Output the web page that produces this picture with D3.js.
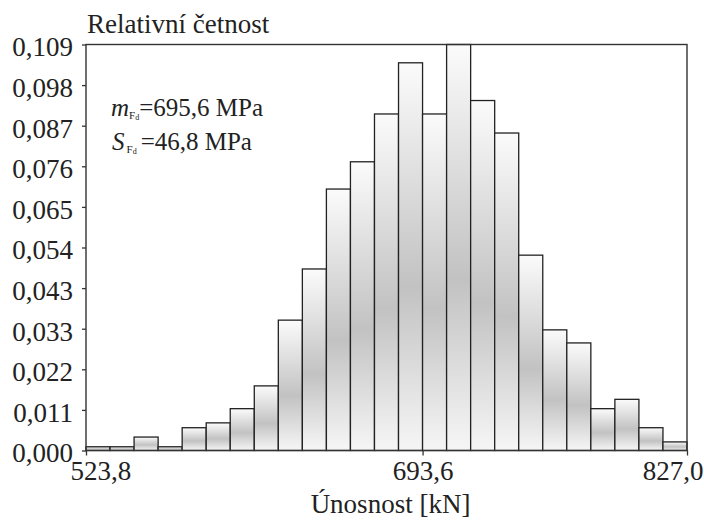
<!DOCTYPE html>
<html>
<head>
<meta charset="utf-8">
<script src="https://cdn.jsdelivr.net/npm/d3@7"></script>
<style>
  body { margin: 0; background: #fff; }
</style>
</head>
<body>
<div id="chart"></div>
<script>
// histogram range and relative frequencies
const xMin = 523.8;
const xMax = 827.0;
const freq = [0.0010, 0.0010, 0.0036, 0.0010, 0.0061, 0.0074, 0.0112, 0.0173, 0.0349, 0.0486,
              0.0700, 0.0773, 0.0901, 0.1038, 0.0901, 0.1087, 0.0937, 0.0850, 0.0523, 0.0323,
              0.0288, 0.0112, 0.0137, 0.0061, 0.0023];
const yMax = 0.1087;
const yTickLabels = ['0,000', '0,011', '0,022', '0,033', '0,043', '0,054', '0,065', '0,076', '0,087', '0,098', '0,109'];
const xTickValues = [523.8, 693.6, 827.0];
const xTickLabels = ['523,8', '693,6', '827,0'];

const FONT = "'Liberation Serif', 'Times New Roman', Tinos, 'DejaVu Serif', serif";

const W = 704, H = 522;
const margin = { top: 44.5, right: 17, bottom: 71.5, left: 86 };

const svg = d3.select('#chart').append('svg')
  .attr('width', W)
  .attr('height', H);

const x = d3.scaleLinear().domain([xMin, xMax]).range([margin.left, W - margin.right]);
const y = d3.scaleLinear().domain([0, yMax]).range([H - margin.bottom, margin.top]);

// per-bar vertical gradient: white at top, grey in middle, light at bottom
const grad = svg.append('defs').append('linearGradient')
  .attr('id', 'barGrad')
  .attr('x1', 0).attr('y1', 0).attr('x2', 0).attr('y2', 1);
grad.append('stop').attr('offset', '0%').attr('stop-color', '#fbfbfb');
grad.append('stop').attr('offset', '58%').attr('stop-color', '#c2c2c2');
grad.append('stop').attr('offset', '100%').attr('stop-color', '#f6f6f6');

const binW = (xMax - xMin) / freq.length;

svg.append('g')
  .selectAll('rect')
  .data(freq)
  .join('rect')
  .attr('x', (d, i) => x(xMin + i * binW))
  .attr('width', (d, i) => x(xMin + (i + 1) * binW) - x(xMin + i * binW))
  .attr('y', d => y(d))
  .attr('height', d => y(0) - y(d))
  .attr('fill', 'url(#barGrad)')
  .attr('stroke', '#222')
  .attr('stroke-width', 1.3);

// frame
svg.append('rect')
  .attr('x', x(xMin))
  .attr('y', y(yMax))
  .attr('width', x(xMax) - x(xMin))
  .attr('height', y(0) - y(yMax))
  .attr('fill', 'none')
  .attr('stroke', '#333')
  .attr('stroke-width', 1.4);

// y axis
const yTicks = yTickLabels.map((t, i) => i * yMax / 10);
const yAxis = svg.append('g')
  .attr('transform', `translate(${margin.left},0)`)
  .call(d3.axisLeft(y).tickValues(yTicks).tickSize(4).tickPadding(9).tickSizeOuter(0)
    .tickFormat((d, i) => yTickLabels[i]));
yAxis.select('.domain').remove();
yAxis.selectAll('line').attr('stroke', '#333').attr('stroke-width', 1.3);
yAxis.selectAll('text').attr('font-size', 27).attr('dy', '0.42em');

// x axis
const xAxis = svg.append('g')
  .attr('transform', `translate(0,${H - margin.bottom})`)
  .call(d3.axisBottom(x).tickValues(xTickValues).tickSize(5).tickSizeOuter(0)
    .tickFormat((d, i) => xTickLabels[i]));
xAxis.select('.domain').remove();
xAxis.selectAll('line').attr('stroke', '#333').attr('stroke-width', 1.3);
xAxis.selectAll('text')
  .attr('font-size', 27)
  .attr('y', 29)
  .attr('dy', 0)
  .attr('text-anchor', (d, i) => i === 0 ? 'start' : (i === xTickValues.length - 1 ? 'end' : 'middle'))
  .attr('dx', (d, i) => i === 0 ? -16 : (i === xTickValues.length - 1 ? 16 : 0));

// axis titles
svg.append('text')
  .attr('x', 87)
  .attr('y', 33)
  .attr('font-size', 27)
  .text('Relativní četnost');

svg.append('text')
  .attr('x', (margin.left + W - margin.right) / 2 + 4)
  .attr('y', 513)
  .attr('text-anchor', 'middle')
  .attr('font-size', 27)
  .text('Únosnost [kN]');

// annotation
const ann = svg.append('g').attr('font-size', 25);
const l1 = ann.append('text').attr('x', 111).attr('y', 116);
l1.append('tspan').attr('font-style', 'italic').text('m');
l1.append('tspan').attr('font-size', 11).attr('dy', 3).text('F');
l1.append('tspan').attr('font-size', 8).attr('dy', 1).text('d');
l1.append('tspan').attr('dy', -4).text('=695,6 MPa');

const l2 = ann.append('text').attr('x', 112).attr('y', 150);
l2.append('tspan').attr('font-style', 'italic').text('S');
l2.append('tspan').attr('font-size', 11).attr('dy', 3).attr('dx', 2).text('F');
l2.append('tspan').attr('font-size', 8).attr('dy', 1).text('d');
l2.append('tspan').attr('dy', -4).attr('dx', 4).text('=46,8 MPa');

// serif font and dark text everywhere (axis groups set sans-serif themselves)
svg.selectAll('g').attr('font-family', FONT);
svg.selectAll('text').style('font-family', FONT).style('fill', '#222');
</script>
</body>
</html>
